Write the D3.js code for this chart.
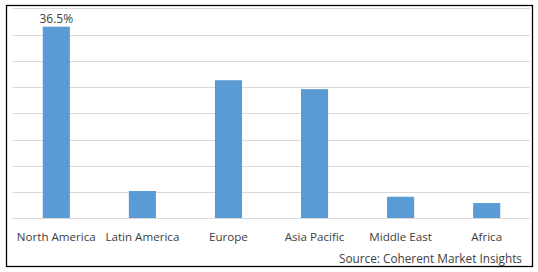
<!DOCTYPE html>
<html>
<head>
<meta charset="utf-8">
<script src="https://cdn.jsdelivr.net/npm/d3@7"></script>
<style>
  body { margin: 0; background: #fff; }
  text { font-family: "Open Sans", "Liberation Sans", Arial, sans-serif; fill: #404040; }
</style>
</head>
<body>
<div id="chart"></div>
<script>
const regions = ["North America", "Latin America", "Europe", "Asia Pacific", "Middle East", "Africa"];
const shares = [36.5, 5.2, 26.3, 24.6, 4.1, 2.9];
const gridTicks = [0, 5, 10, 15, 20, 25, 30, 35, 40];
const labelled = ["North America"];
const sourceNote = "Source: Coherent Market Insights";

const width = 538, height = 272;
const svg = d3.select("#chart").append("svg")
    .attr("width", width)
    .attr("height", height);

// outer frame
svg.append("rect")
    .attr("x", 6.5).attr("y", 5.5)
    .attr("width", 526).attr("height", 261)
    .attr("fill", "#fff")
    .attr("stroke", "#000")
    .attr("stroke-width", 1.3);

const x = d3.scaleBand()
    .domain(regions)
    .range([13.5, 529.5])
    .paddingInner(0.685)
    .paddingOuter(0.34);

const y = d3.scaleLinear()
    .domain([0, 40])
    .range([218.3, 8.3]);

// gridlines
svg.append("g")
  .selectAll("line")
  .data(gridTicks)
  .join("line")
    .attr("x1", 12.5).attr("x2", 530)
    .attr("y1", d => Math.round(y(d)) + 0.5)
    .attr("y2", d => Math.round(y(d)) + 0.5)
    .attr("stroke", "#d9d9d9")
    .attr("stroke-width", 1);

svg.append("g")
  .selectAll("rect")
  .data(shares)
  .join("rect")
    .attr("x", (d, i) => x(regions[i]))
    .attr("width", x.bandwidth())
    .attr("y", d => y(d))
    .attr("height", d => y(0) - y(d))
    .attr("fill", "#5b9bd5");

// redraw baseline over bars
svg.append("line")
    .attr("x1", 12.5).attr("x2", 530)
    .attr("y1", Math.round(y(0)) + 0.5).attr("y2", Math.round(y(0)) + 0.5)
    .attr("stroke", "#d9d9d9");

// value label
svg.append("g")
  .selectAll("text")
  .data(regions.filter(r => labelled.includes(r)))
  .join("text")
    .attr("x", d => x(d) + x.bandwidth() / 2)
    .attr("y", d => y(shares[regions.indexOf(d)]) - 4)
    .attr("text-anchor", "middle")
    .attr("font-size", 12)
    .text(d => shares[regions.indexOf(d)] + "%");

// category labels
svg.append("g")
  .selectAll("text")
  .data(regions)
  .join("text")
    .attr("x", d => x(d) + x.bandwidth() / 2)
    .attr("y", 240.5)
    .attr("text-anchor", "middle")
    .attr("font-size", 11.6)
    .text(d => d);

svg.append("text")
    .attr("x", 522)
    .attr("y", 263)
    .attr("text-anchor", "end")
    .attr("font-size", 11.8)
    .text(sourceNote);
</script>
</body>
</html>
